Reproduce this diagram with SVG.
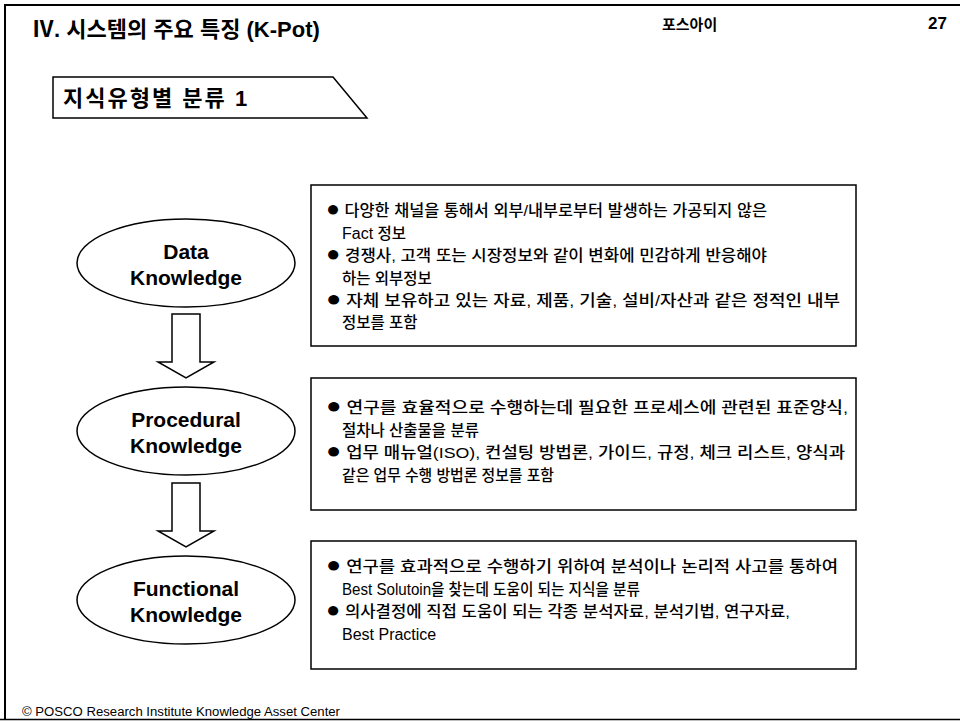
<svg xmlns="http://www.w3.org/2000/svg" width="960" height="722" viewBox="0 0 960 722">
<defs>
<style>
.t{font-family:"Liberation Sans","Noto Sans CJK KR",sans-serif;fill:#000}
.b{font-weight:bold}
.body{font-size:15.5px;font-weight:500}
.bul{font-size:22px}
.lat{font-size:16px}
.lbl{font-size:21px;font-weight:bold;text-anchor:middle}
.shape{fill:#fff;stroke:#000;stroke-width:1.5}
.frame{fill:none;stroke:#000;stroke-width:2}
</style>
</defs>
<rect x="0" y="0" width="960" height="722" fill="#fff"/>
<g id="frame">
<path class="frame" d="M5,720 V5 H960"/>
<line x1="0" y1="719.5" x2="960" y2="719.5" stroke="#000" stroke-width="1.5"/>
</g>
<g id="header">
<text class="t b" x="32" y="37" font-size="22">Ⅳ. 시스템의 주요 특징 (K-Pot)</text>
<text class="t b" x="662" y="30" font-size="15">포스아이</text>
<text class="t b" x="928" y="29" font-size="17">27</text>
</g>
<g id="section-label">
<path class="shape" d="M53,77 H333 L367,118 H53 Z"/>
<text class="t b" x="63" y="106" font-size="22" letter-spacing="2">지식유형별 분류 1</text>
</g>
<g id="connectors">
<path class="shape" d="M172,314 H200 V362 H214 L186,378 L158,362 H172 Z"/>
<path class="shape" d="M172,483 H200 V531 H214 L186,547 L158,531 H172 Z"/>
</g>
<g id="node-data">
<ellipse class="shape" cx="186" cy="263" rx="109" ry="44"/>
<text class="t lbl" x="186" y="259">Data</text>
<text class="t lbl" x="186" y="285">Knowledge</text>
</g>
<g id="node-procedural">
<ellipse class="shape" cx="186" cy="431" rx="109" ry="44"/>
<text class="t lbl" x="186" y="427">Procedural</text>
<text class="t lbl" x="186" y="453">Knowledge</text>
</g>
<g id="node-functional">
<ellipse class="shape" cx="186" cy="600" rx="109" ry="44"/>
<text class="t lbl" x="186" y="596">Functional</text>
<text class="t lbl" x="186" y="622">Knowledge</text>
</g>
<g id="box-data">
<rect class="shape" x="311" y="185" width="545" height="161"/>
<text class="t body" x="326" y="216" textLength="441" lengthAdjust="spacingAndGlyphs"><tspan class="bul">●</tspan> 다양한 채널을 통해서 외부/내부로부터 발생하는 가공되지 않은</text>
<text class="t body" x="342" y="239"><tspan class="lat">Fact</tspan> 정보</text>
<text class="t body" x="326" y="261" textLength="441" lengthAdjust="spacingAndGlyphs"><tspan class="bul">●</tspan> 경쟁사, 고객 또는 시장정보와 같이 변화에 민감하게 반응해야</text>
<text class="t body" x="342" y="284">하는 외부정보</text>
<text class="t body" x="326" y="306" textLength="514" lengthAdjust="spacingAndGlyphs"><tspan class="bul">●</tspan> 자체 보유하고 있는 자료, 제품, 기술, 설비/자산과 같은 정적인 내부</text>
<text class="t body" x="342" y="328">정보를 포함</text>
</g>
<g id="box-procedural">
<rect class="shape" x="311" y="378" width="545" height="132"/>
<text class="t body" x="326" y="413" textLength="522" lengthAdjust="spacingAndGlyphs"><tspan class="bul">●</tspan> 연구를 효율적으로 수행하는데 필요한 프로세스에 관련된 표준양식,</text>
<text class="t body" x="342" y="436">절차나 산출물을 분류</text>
<text class="t body" x="342" y="481" textLength="212" lengthAdjust="spacingAndGlyphs">같은 업무 수행 방법론 정보를 포함</text>
<text class="t body" x="326" y="458" textLength="519" lengthAdjust="spacingAndGlyphs"><tspan class="bul">●</tspan> 업무 매뉴얼(ISO), 컨설팅 방법론, 가이드, 규정, 체크 리스트, 양식과</text>
</g>
<g id="box-functional">
<rect class="shape" x="311" y="541" width="545" height="128"/>
<text class="t body" x="326" y="572" textLength="512" lengthAdjust="spacingAndGlyphs"><tspan class="bul">●</tspan> 연구를 효과적으로 수행하기 위하여 분석이나 논리적 사고를 통하여</text>
<text class="t body" x="342" y="595" textLength="298" lengthAdjust="spacingAndGlyphs"><tspan class="lat">Best Solutoin</tspan>을 찾는데 도움이 되는 지식을 분류</text>
<text class="t body" x="326" y="617" textLength="464" lengthAdjust="spacingAndGlyphs"><tspan class="bul">●</tspan> 의사결정에 직접 도움이 되는 각종 분석자료, 분석기법,  연구자료,</text>
<text class="t body" x="342" y="640"><tspan class="lat">Best Practice</tspan></text>
</g>
<g id="footer">
<text class="t" x="22" y="716" font-size="12.5" textLength="318" lengthAdjust="spacingAndGlyphs">© POSCO Research Institute Knowledge Asset Center</text>
</g>
</svg>
